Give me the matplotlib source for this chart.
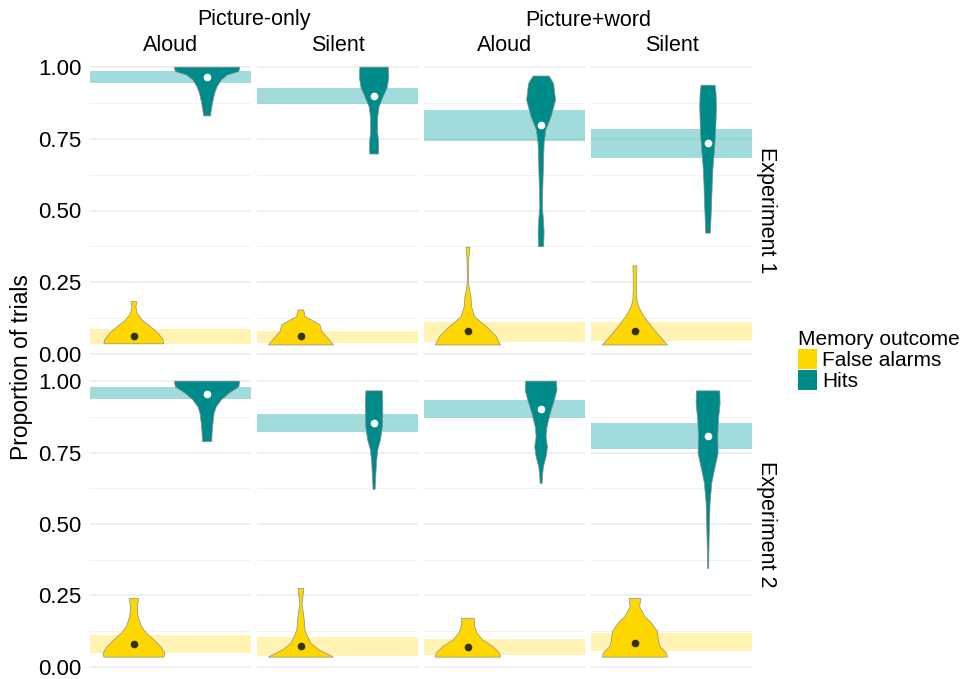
import matplotlib.pyplot as plt
from matplotlib.patches import Patch
import numpy as np

plt.rcParams['font.family'] = ['Liberation Sans', 'DejaVu Sans']

# facet labels
conditions = ['Picture-only', 'Picture+word']
modes = ['Aloud', 'Silent']
experiments = ['Experiment 1', 'Experiment 2']
outcomes = ['False alarms', 'Hits']

# violin outlines: (proportion, half width) per panel
# panel order: E1 PO aloud, E1 PO silent, E1 PW aloud, E1 PW silent, then E2 same
hits_y = [
    [1.0, 0.985, 0.972, 0.955, 0.932, 0.908, 0.873, 0.838, 0.830],
    [1.0, 0.966, 0.931, 0.897, 0.862, 0.827, 0.780, 0.751, 0.722, 0.697],
    [0.969, 0.943, 0.885, 0.827, 0.780, 0.734, 0.653, 0.572, 0.514, 0.467, 0.426, 0.374],
    [0.937, 0.908, 0.862, 0.815, 0.769, 0.711, 0.653, 0.595, 0.537, 0.479, 0.421],
    [1.0, 0.980, 0.957, 0.934, 0.910, 0.887, 0.852, 0.817, 0.788],
    [0.966, 0.933, 0.887, 0.840, 0.794, 0.759, 0.712, 0.666, 0.621],
    [1.0, 0.968, 0.934, 0.887, 0.840, 0.805, 0.770, 0.735, 0.700, 0.666, 0.642],
    [0.966, 0.922, 0.863, 0.805, 0.747, 0.689, 0.642, 0.572, 0.491, 0.409, 0.345],
]
hits_w = [
    [0.449, 0.433, 0.274, 0.194, 0.137, 0.103, 0.073, 0.050, 0.050],
    [0.194, 0.201, 0.182, 0.125, 0.068, 0.050, 0.046, 0.057, 0.064, 0.059],
    [0.109, 0.171, 0.198, 0.137, 0.064, 0.041, 0.032, 0.023, 0.018, 0.032, 0.041, 0.036],
    [0.096, 0.109, 0.114, 0.109, 0.103, 0.087, 0.068, 0.057, 0.050, 0.041, 0.032],
    [0.449, 0.433, 0.296, 0.194, 0.125, 0.096, 0.080, 0.068, 0.064],
    [0.112, 0.119, 0.119, 0.114, 0.087, 0.050, 0.032, 0.023, 0.014],
    [0.210, 0.217, 0.182, 0.125, 0.080, 0.068, 0.087, 0.068, 0.032, 0.018, 0.014],
    [0.160, 0.164, 0.141, 0.132, 0.137, 0.087, 0.050, 0.027, 0.018, 0.011, 0.009],
]
fa_y = [
    [0.182, 0.165, 0.141, 0.118, 0.095, 0.072, 0.049, 0.035],
    [0.153, 0.130, 0.116, 0.101, 0.078, 0.055, 0.031],
    [0.372, 0.339, 0.293, 0.246, 0.229, 0.200, 0.165, 0.130, 0.095, 0.060, 0.031],
    [0.307, 0.269, 0.223, 0.188, 0.165, 0.130, 0.095, 0.060, 0.031],
    [0.239, 0.211, 0.176, 0.141, 0.118, 0.094, 0.071, 0.048, 0.034],
    [0.274, 0.246, 0.222, 0.199, 0.164, 0.129, 0.106, 0.082, 0.059, 0.034],
    [0.170, 0.141, 0.118, 0.094, 0.071, 0.048, 0.034],
    [0.239, 0.211, 0.176, 0.153, 0.124, 0.094, 0.071, 0.048, 0.034],
]
fa_w = [
    [0.041, 0.027, 0.046, 0.114, 0.228, 0.331, 0.399, 0.410],
    [0.039, 0.057, 0.160, 0.262, 0.285, 0.365, 0.445],
    [0.027, 0.014, 0.009, 0.009, 0.018, 0.041, 0.050, 0.091, 0.251, 0.388, 0.445],
    [0.027, 0.023, 0.023, 0.027, 0.050, 0.125, 0.228, 0.342, 0.445],
    [0.064, 0.046, 0.057, 0.103, 0.171, 0.274, 0.365, 0.422, 0.410],
    [0.041, 0.027, 0.014, 0.027, 0.046, 0.055, 0.091, 0.137, 0.251, 0.445],
    [0.087, 0.091, 0.125, 0.205, 0.342, 0.433, 0.445],
    [0.080, 0.064, 0.137, 0.228, 0.308, 0.319, 0.342, 0.433, 0.445],
]

# means and shaded intervals
hits_mean = [0.965, 0.900, 0.798, 0.734, 0.955, 0.854, 0.901, 0.808]
fa_mean = [0.063, 0.061, 0.078, 0.078, 0.080, 0.073, 0.069, 0.085]
hits_lo = [0.943, 0.871, 0.743, 0.684, 0.936, 0.821, 0.870, 0.761]
hits_hi = [0.987, 0.929, 0.850, 0.783, 0.980, 0.885, 0.934, 0.852]
fa_lo = [0.035, 0.037, 0.043, 0.046, 0.050, 0.038, 0.041, 0.054]
fa_hi = [0.087, 0.080, 0.110, 0.110, 0.110, 0.106, 0.097, 0.118]

gold = '#FFD700'
teal = '#008B8B'
W, H = 960, 679

fig = plt.figure(figsize=(9.6, 6.79), dpi=100)

col_x = [90, 257, 424, 591]
col_w = 161
row_y = [(66, 355), (380, 668)]

for r in range(2):
    for c in range(4):
        k = r * 4 + c
        top, bot = row_y[r]
        ax = fig.add_axes([col_x[c] / W, 1 - bot / H, col_w / W, (bot - top) / H])
        ax.set_xlim(0.4, 2.6)
        ax.set_ylim(-0.004, 1.004)
        for s in ax.spines.values():
            s.set_visible(False)
        ax.set_xticks([])
        ax.set_yticks([0, 0.25, 0.5, 0.75, 1.0])
        ax.set_yticks([0.125, 0.375, 0.625, 0.875], minor=True)
        ax.grid(True, axis='y', which='major', color='#ebebeb', lw=1.1)
        ax.grid(True, axis='y', which='minor', color='#f2f2f2', lw=0.7)
        ax.set_axisbelow(True)
        ax.tick_params(axis='both', which='both', length=0)
        if c == 0:
            ax.set_yticklabels(['0.00', '0.25', '0.50', '0.75', '1.00'], fontsize=16)
            ax.tick_params(axis='y', pad=6)
        else:
            ax.set_yticklabels([])

        # shaded intervals across the panel
        ax.axhspan(fa_lo[k], fa_hi[k], color='#ffe767', alpha=0.5, lw=0, zorder=1)
        ax.axhspan(hits_lo[k], hits_hi[k], color='#47b9b9', alpha=0.5, lw=0, zorder=1)

        # violins
        for xpos, ys, ws, col in [(1, fa_y[k], fa_w[k], gold), (2, hits_y[k], hits_w[k], teal)]:
            ys = np.array(ys)
            ws = np.array(ws)
            xs = np.concatenate([xpos - ws, (xpos + ws)[::-1]])
            yy = np.concatenate([ys, ys[::-1]])
            ax.fill(xs, yy, facecolor=col, edgecolor='#8c8c8c', lw=0.5, zorder=2, clip_on=False)

        ax.plot(1, fa_mean[k], 'o', color='#333300', ms=4.5, zorder=3)
        ax.plot(2, hits_mean[k], 'o', color='white', ms=4.5, zorder=3)

        if r == 0:
            ax.text(0.5, 1 + 10 / (bot - top), modes[c % 2], transform=ax.transAxes,
                    ha='center', va='bottom', fontsize=15.5)
        if c == 3:
            ax.text(1 + 14 / col_w, 0.5, experiments[r], transform=ax.transAxes,
                    rotation=-90, ha='center', va='center', fontsize=15.5)

# top strip: stimulus condition
fig.text((90 + 418) / 2 / W, 1 - 20 / H, conditions[0], ha='center', va='center', fontsize=15.5)
fig.text((424 + 752) / 2 / W, 1 - 20 / H, conditions[1], ha='center', va='center', fontsize=15.5)

fig.text(22 / W, 1 - 367 / H, 'Proportion of trials', rotation=90, ha='center',
         va='center', fontsize=16.5)

handles = [Patch(facecolor=gold, edgecolor='none'), Patch(facecolor=teal, edgecolor='none')]
fig.legend(handles, outcomes, title='Memory outcome', loc='upper left',
           bbox_to_anchor=(798 / W, 1 - 330 / H), frameon=False, fontsize=15,
           title_fontsize=15, handlelength=0.9, handleheight=1.1, handletextpad=0.25,
           labelspacing=0.0, borderpad=0, borderaxespad=0, alignment='left')

fig.savefig('out.png', dpi=100)
